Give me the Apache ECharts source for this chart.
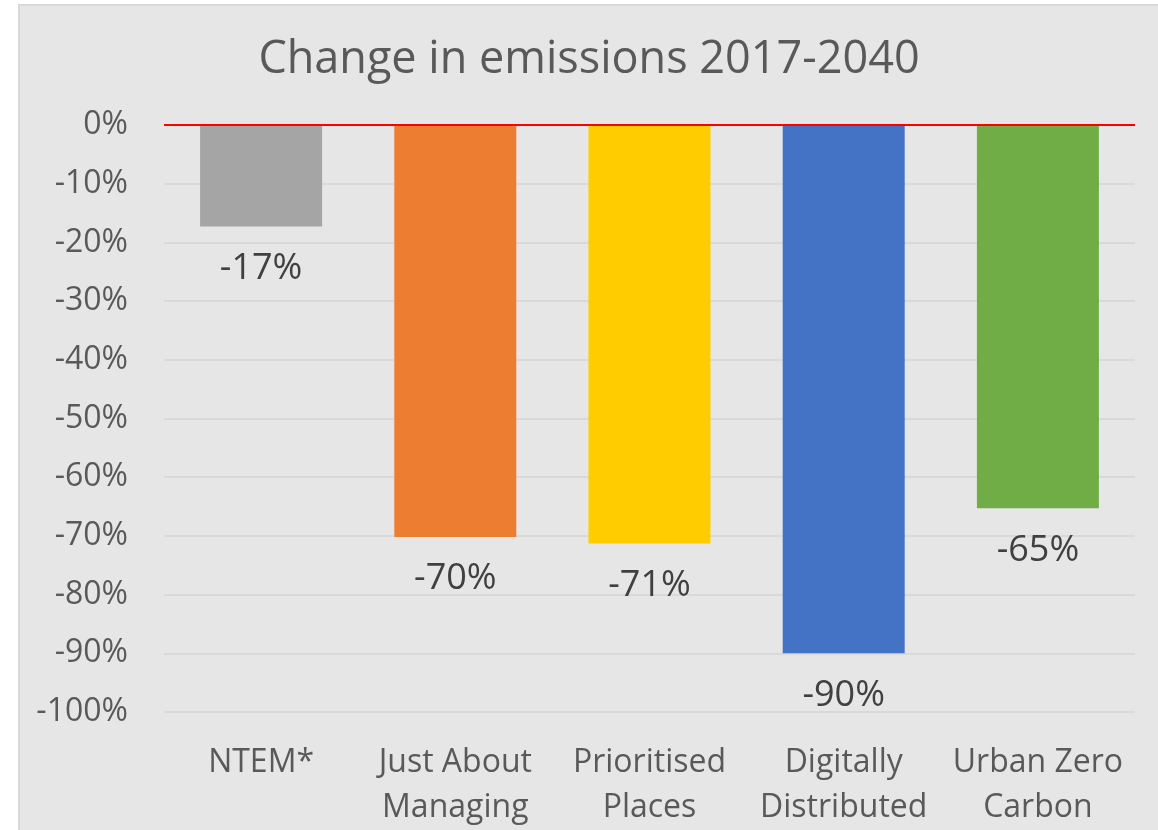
<!DOCTYPE html>
<html><head><meta charset="utf-8">
<script src="https://cdn.jsdelivr.net/npm/echarts@6/dist/echarts.min.js"></script>
<style>
html,body{margin:0;padding:0;background:#ffffff;}
#wrap{position:absolute;left:18px;top:4px;width:1140px;height:826px;box-sizing:border-box;border:2px solid #d9d9d9;border-right:none;border-bottom:none;background:#e7e6e6;}
#chart{width:100%;height:100%;}
</style></head>
<body><div id="wrap"><div id="chart"></div></div>
<script>
var titleText = 'Change in emissions 2017-2040';
var categories = ['NTEM*', 'Just About\nManaging', 'Prioritised\nPlaces', 'Digitally\nDistributed', 'Urban Zero\nCarbon'];
var values = [-17.3, -70.2, -71.3, -90.0, -65.3];
var valueLabels = ['-17%', '-70%', '-71%', '-90%', '-65%'];
var barColors = ['#a5a5a5', '#ed7d31', '#ffcc00', '#4472c4', '#70ad47'];
var yMin = -100, yMax = 0, yStep = 10;

var FONT = '"Open Sans", "Noto Sans", sans-serif';
var chart = echarts.init(document.getElementById('chart'), null, {renderer: 'canvas'});
chart.setOption({
  backgroundColor: 'transparent',
  animation: false,
  title: {
    text: titleText, left: 'center', top: 27,
    textStyle: {fontFamily: FONT, fontSize: 45, fontWeight: 'normal', color: '#595959'}
  },
  grid: {left: 144, right: 23, top: 119, bottom: 116, containLabel: false},
  xAxis: {
    type: 'category', data: categories, position: 'bottom',
    axisLine: {show: false, onZero: false}, axisTick: {show: false},
    axisLabel: {fontFamily: FONT, fontSize: 32, color: '#595959', margin: 28, lineHeight: 45, interval: 0}
  },
  yAxis: {
    type: 'value', min: yMin, max: yMax, interval: yStep,
    axisLine: {show: false}, axisTick: {show: false},
    axisLabel: {fontFamily: FONT, fontSize: 32, color: '#595959', margin: 36, formatter: '{value}%'},
    splitLine: {lineStyle: {color: '#d9d9d9', width: 2}}
  },
  series: [{
    type: 'bar', barWidth: 122,
    data: values.map(function (v, i) { return {value: v, itemStyle: {color: barColors[i]}}; }),
    label: {
      show: true, position: 'bottom', distance: 24,
      fontFamily: FONT, fontSize: 36, color: '#404040',
      formatter: function (p) { return valueLabels[p.dataIndex]; }
    },
    markLine: {
      silent: true, symbol: 'none', label: {show: false},
      lineStyle: {color: '#ff0000', width: 2, type: 'solid'},
      data: [{yAxis: 0}]
    }
  }]
});
</script></body></html>
